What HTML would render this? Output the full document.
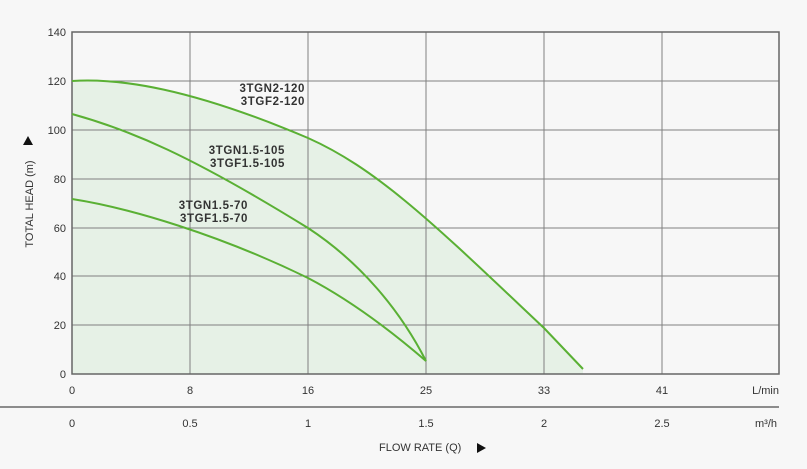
<!DOCTYPE html><html><head><style>body{margin:0;background:#f7f7f7}svg{display:block}text{font-family:"Liberation Sans",sans-serif;fill:#333}</style></head><body>
<svg width="807" height="469" viewBox="0 0 807 469">
<rect width="807" height="469" fill="#f7f7f7"/>
<path d="M72,81 C120,78 190,88 308,138 C380,170 440,230 544,328 L583,369 L583,374 L72,374Z" fill="#e6f1e6"/>
<g stroke="#808080" stroke-width="1">
<line x1="190" y1="32" x2="190" y2="374"/><line x1="308" y1="32" x2="308" y2="374"/><line x1="426" y1="32" x2="426" y2="374"/><line x1="544" y1="32" x2="544" y2="374"/><line x1="662" y1="32" x2="662" y2="374"/>
<line x1="72" y1="81" x2="779" y2="81"/><line x1="72" y1="130" x2="779" y2="130"/><line x1="72" y1="179" x2="779" y2="179"/><line x1="72" y1="228" x2="779" y2="228"/><line x1="72" y1="276" x2="779" y2="276"/><line x1="72" y1="325" x2="779" y2="325"/>
</g>
<rect x="72" y="32" width="707" height="342" fill="none" stroke="#666" stroke-width="1.5"/>
<line x1="0" y1="407" x2="779" y2="407" stroke="#222" stroke-width="1"/>
<g fill="none" stroke="#5ab034" stroke-width="2">
<path d="M72,81 C120,78 190,88 308,138 C380,170 440,230 544,328 L583,369"/>
<path d="M72,114 C130,130 190,155 308,228 C360,262 400,310 426,361"/>
<path d="M72,199 C130,208 220,235 308,278 C350,300 390,330 426,361"/>
</g>
<g font-size="11" text-anchor="end">
<text x="66" y="36">140</text><text x="66" y="85">120</text><text x="66" y="134">100</text><text x="66" y="183">80</text><text x="66" y="232">60</text><text x="66" y="280">40</text><text x="66" y="329">20</text><text x="66" y="378">0</text>
</g>
<g font-size="11" text-anchor="middle">
<text x="72" y="394">0</text><text x="190" y="394">8</text><text x="308" y="394">16</text><text x="426" y="394">25</text><text x="544" y="394">33</text><text x="662" y="394">41</text>
<text x="72" y="427">0</text><text x="190" y="427">0.5</text><text x="308" y="427">1</text><text x="426" y="427">1.5</text><text x="544" y="427">2</text><text x="662" y="427">2.5</text>
</g>
<text x="779" y="394" font-size="11" text-anchor="end">L/min</text>
<text x="777" y="427" font-size="11" text-anchor="end">m³/h</text>
<text x="379" y="451" font-size="11">FLOW RATE (Q)</text>
<path d="M477,443 L486,448 L477,453Z" fill="#111"/>
<text transform="translate(33,204) rotate(-90)" font-size="11" text-anchor="middle">TOTAL HEAD (m)</text>
<path d="M23,145 L28,136 L33,145Z" fill="#111"/>
<g font-size="11.5" font-weight="bold" text-anchor="end" fill="#222" letter-spacing="0.6">
<text x="305" y="92">3TGN2-120</text><text x="305" y="105">3TGF2-120</text>
<text x="285" y="154">3TGN1.5-105</text><text x="285" y="167">3TGF1.5-105</text>
<text x="248" y="209">3TGN1.5-70</text><text x="248" y="222">3TGF1.5-70</text>
</g>
</svg></body></html>
